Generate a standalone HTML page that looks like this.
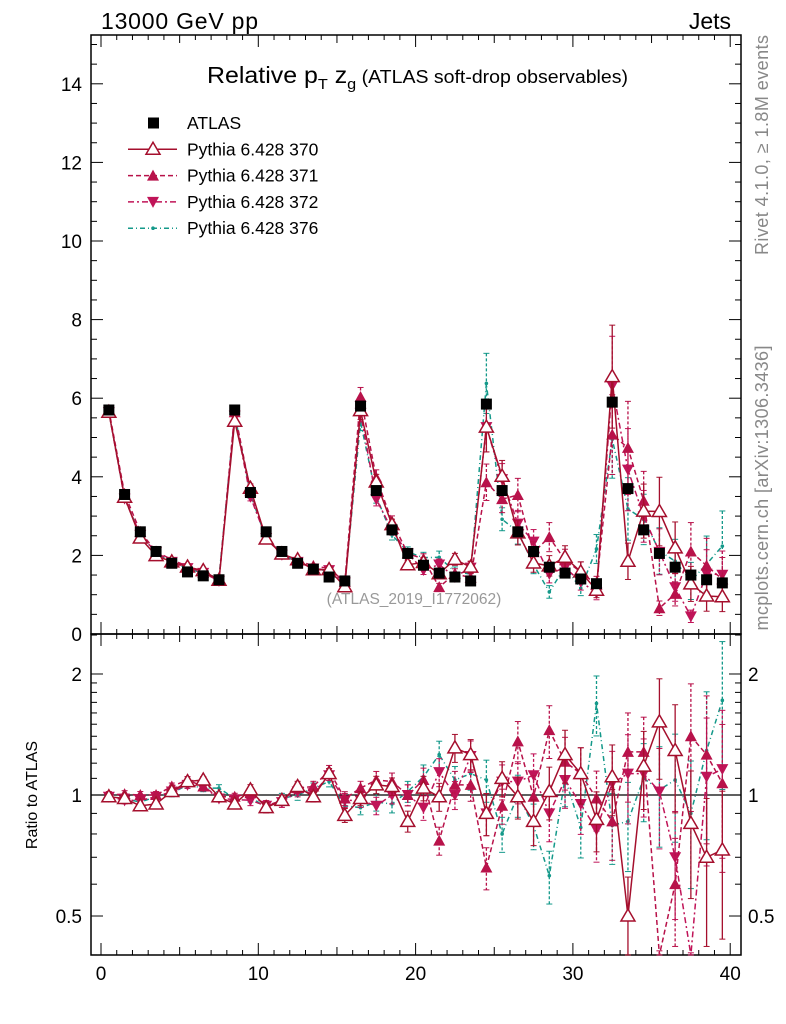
<!DOCTYPE html>
<html><head><meta charset="utf-8"><style>
body{margin:0;background:#fff;}
svg{display:block;font-family:"Liberation Sans",sans-serif;}
</style></head><body>
<svg id="c" width="786" height="1024" xmlns="http://www.w3.org/2000/svg">
<text x="101" y="29" font-size="23" textLength="157">13000 GeV pp</text>
<text x="731" y="29" font-size="23" text-anchor="end">Jets</text>
<text x="207" y="83" font-size="23" textLength="421" lengthAdjust="spacingAndGlyphs">Relative p<tspan font-size="15" dy="6">T</tspan><tspan dy="-6"> z</tspan><tspan font-size="15" dy="6">g</tspan><tspan dy="-6" font-size="18"> (ATLAS soft-drop observables)</tspan></text>
<text x="414" y="604" font-size="15.5" fill="#999" text-anchor="middle">(ATLAS_2019_I1772062)</text>
<text transform="translate(768,145) rotate(-90)" font-size="18" fill="#888" text-anchor="middle" textLength="220">Rivet 4.1.0, ≥ 1.8M events</text>
<text transform="translate(768,488) rotate(-90)" font-size="18" fill="#888" text-anchor="middle" textLength="285">mcplots.cern.ch [arXiv:1306.3436]</text>
<text transform="translate(37,795) rotate(-90)" font-size="16" text-anchor="middle">Ratio to ATLAS</text>
<g id="grid"></g>
<g id="marks"></g>
<g id="legend"></g>
</svg>
<script>
const bins = Array.from({length:40},(_, i)=>i+0.5);
const atlas = [5.7,3.55,2.6,2.1,1.8,1.58,1.48,1.38, 5.7,3.6,2.6,2.1,1.8,1.65,1.45,1.35, 5.8,3.65,2.65,2.05,1.75,1.55,1.45,1.35, 5.85,3.65,2.6,2.1,1.7,1.55,1.4,1.28, 5.9,3.7,2.65,2.05,1.7,1.5,1.38,1.3];
const ratio370 = [0.99,0.98,0.94,0.95,1.02,1.08,1.09,0.99,0.95,1.03,0.93,0.97,1.05,0.99,1.13,0.89,0.98,1.06,1.05,0.86,1.04,0.99,1.31,1.26,0.90,1.10,0.99,0.86,1.02,1.26,1.13,0.87,1.11,0.50,1.18,1.52,1.29,0.85,0.70,0.73];
const ratio371 = [1.0,1.005,1.0,1.0,1.05,1.09,1.05,0.99,0.99,1.01,0.94,0.97,1.04,1.05,1.15,0.98,1.04,1.09,1.08,1.0,1.09,0.77,1.06,1.06,0.66,0.94,1.36,0.99,1.45,1.21,1.13,0.98,0.86,1.28,1.28,0.32,0.60,1.40,1.26,1.07];
const ratio372 = [0.99,0.97,0.97,0.99,1.02,1.06,1.05,0.98,0.975,0.97,0.94,0.96,1.02,1.01,1.12,0.97,0.97,0.94,1.0,1.0,0.93,1.14,1.0,1.25,0.90,1.08,1.08,1.12,0.90,1.09,0.95,0.82,1.07,1.13,1.13,1.02,0.70,0.30,1.11,1.16];
const ratio376 = [0.99,0.98,0.96,0.99,1.01,1.06,1.04,1.04,0.98,0.99,0.93,0.98,1.0,1.04,1.08,0.94,0.93,0.96,0.95,1.02,1.11,1.26,1.09,1.13,1.09,0.80,1.0,0.84,0.63,1.10,0.83,1.69,0.84,0.86,1.10,1.03,1.09,0.90,1.29,1.72];
const relErr = [0.02,0.02,0.02,0.02,0.02,0.02,0.02,0.02,0.02,0.03,0.03,0.03,0.03,0.03,0.03,0.04,0.04,0.05,0.05,0.06,0.07,0.08,0.08,0.09,0.12,0.1,0.12,0.13,0.15,0.15,0.16,0.17,0.2,0.25,0.22,0.28,0.3,0.35,0.4,0.4];
const yTicksMain = [0,2,4,6,8,10,12,14];
const yTicksRatio = [0.5,1,2];
const xTicks = [0,10,20,30,40];

const NS="http://www.w3.org/2000/svg";
const L=91,R=741,T=35,MB=634,RB=955;
const X=v=>101+v*15.73;
const Y=v=>634-v*39.3;
const YR=r=>795-402*Math.log10(r);
function mk(tag,attrs,parent){const e=document.createElementNS(NS,tag);for(const k in attrs)e.setAttribute(k,attrs[k]);parent.appendChild(e);return e;}
const grid=document.getElementById('grid'), marks=document.getElementById('marks'), leg=document.getElementById('legend');

let f1=mk('rect',{x:L,y:T,width:R-L,height:MB-T,fill:'none',stroke:'#000','stroke-width':1.5},grid);


let f2=mk('rect',{x:L,y:MB,width:R-L,height:RB-MB,fill:'none',stroke:'#000','stroke-width':1.5},grid);


for(let v=0;v<=40;v++){const x=X(v);if(x<L||x>R)continue;const len=v%10===0?12:(v%5===0?8:5);
 for(const [y0,d] of [[MB,-1],[T,1],[RB,-1],[MB,1]]) mk('line',{x1:x,x2:x,y1:y0,y2:y0+d*len,stroke:'#000'},grid);}
xTicks.forEach(v=>{const t=mk('text',{x:X(v),y:980,'font-size':19,'text-anchor':'middle'},grid);t.textContent=v;
 
 });
for(let v=0;v<=15;v+=0.5){const y=Y(v);if(y<T)continue;const len=v%2===0?12:6;
 mk('line',{x1:L,x2:L+len,y1:y,y2:y,stroke:'#000'},grid);mk('line',{x1:R,x2:R-len,y1:y,y2:y,stroke:'#000'},grid);}
yTicksMain.forEach(v=>{const t=mk('text',{x:82,y:Y(v)+7,'font-size':19,'text-anchor':'end'},grid);t.textContent=v;
 
 });
[0.4,0.5,0.6,0.7,0.8,0.9,1,1.1,1.2,1.3,1.4,1.5,1.6,1.7,1.8,1.9,2,2.5].forEach(r=>{const y=YR(r);if(y<MB||y>RB)return;const len=yTicksRatio.includes(r)?12:6;
 mk('line',{x1:L,x2:L+len,y1:y,y2:y,stroke:'#000'},grid);mk('line',{x1:R,x2:R-len,y1:y,y2:y,stroke:'#000'},grid);});
yTicksRatio.forEach(r=>{let t=mk('text',{x:82,y:YR(r)+7,'font-size':19,'text-anchor':'end'},grid);t.textContent=r;
 
 
 t=mk('text',{x:748,y:YR(r)+7,'font-size':19},grid);t.textContent=r;
 
 });
mk('line',{x1:L,x2:R,y1:YR(1),y2:YR(1),stroke:'#000','stroke-width':1.2},grid);

const series=[
 {name:'370',r:ratio370,c:'#a50f2d',dash:'',m:'open'},
 {name:'371',r:ratio371,c:'#b8124a',dash:'5,3',m:'up'},
 {name:'372',r:ratio372,c:'#c01458',dash:'6,3,2,3',m:'down'},
 {name:'376',r:ratio376,c:'#14998a',dash:'5,3,1,3',m:'dot'}];
function marker(m,x,y,c,g){
 if(m==='open')return mk('path',{d:`M${x},${y-7}L${x+7},${y+5}L${x-7},${y+5}Z`,fill:'#fff',stroke:c,'stroke-width':1.5},g);
 if(m==='up')return mk('path',{d:`M${x},${y-6}L${x+6},${y+5}L${x-6},${y+5}Z`,fill:c},g);
 if(m==='down')return mk('path',{d:`M${x},${y+6}L${x+6},${y-5}L${x-6},${y-5}Z`,fill:c},g);
 return mk('circle',{cx:x,cy:y,r:1.8,fill:c},g);
}
function clipR(y){return Math.max(MB,Math.min(RB,y));}
function clipM(y){return Math.max(T,Math.min(MB,y));}
[...series].reverse().forEach(s=>{
 const g=mk('g',{},marks);
 
 
 const mv=atlas.map((a,i)=>a*s.r[i]);
 const pm=bins.map((b,i)=>`${X(b)},${clipM(Y(mv[i]))}`).join(' ');
 mk('polyline',{points:pm,fill:'none',stroke:s.c,'stroke-width':1.5,'stroke-dasharray':s.dash},g);
 const pr=bins.map((b,i)=>`${X(b)},${clipR(YR(s.r[i]))}`).join(' ');
 mk('polyline',{points:pr,fill:'none',stroke:s.c,'stroke-width':1.5,'stroke-dasharray':s.dash},g);
 bins.forEach((b,i)=>{const x=X(b);
  const e=relErr[i]*s.r[i];
  const y1=clipM(Y(mv[i]*(1+relErr[i]))),y2=clipM(Y(mv[i]*(1-relErr[i])));
  mk('line',{x1:x,x2:x,y1,y2,stroke:s.c,'stroke-width':1.3,'stroke-dasharray':s.dash?'3,2':''},g);
  mk('line',{x1:x-3,x2:x+3,y1,y2:y1,stroke:s.c},g);mk('line',{x1:x-3,x2:x+3,y1:y2,y2,stroke:s.c},g);
  const r1=clipR(YR(s.r[i]+e)),r2=clipR(YR(Math.max(0.01,s.r[i]-e)));
  mk('line',{x1:x,x2:x,y1:r1,y2:r2,stroke:s.c,'stroke-width':1.3,'stroke-dasharray':s.dash?'3,2':''},g);
  mk('line',{x1:x-3,x2:x+3,y1:r1,y2:r1,stroke:s.c},g);mk('line',{x1:x-3,x2:x+3,y1:r2,y2:r2,stroke:s.c},g);
  const ym=Y(mv[i]);if(ym>=T&&ym<=MB){const p=marker(s.m,x,ym,s.c,g);
   
   }
  const yr=YR(s.r[i]);if(yr>=MB&&yr<=RB){const p=marker(s.m,x,yr,s.c,g);
   
   }
 });
});
const ga=mk('g',{},marks);


bins.forEach((b,i)=>{const x=X(b),y=Y(atlas[i]);
 const p=mk('rect',{x:x-5.5,y:y-5.5,width:11,height:11,fill:'#000'},ga);
 
 });
const rows=[['ATLAS','sq','#000',''],['Pythia 6.428 370','open','#a50f2d',''],['Pythia 6.428 371','up','#b8124a','5,3'],['Pythia 6.428 372','down','#c01458','6,3,2,3'],['Pythia 6.428 376','dot','#14998a','5,3,1,3']];
rows.forEach((r,k)=>{const y=123+k*26.3;const g=mk('g',{},leg);
 
 
 if(r[1]==='sq')mk('rect',{x:148,y:y-5.5,width:11,height:11,fill:'#000'},g);
 else{mk('line',{x1:128,x2:177,y1:y,y2:y,stroke:r[2],'stroke-width':1.5,'stroke-dasharray':r[3]},g);marker(r[1],153,y,r[2],g);}
 const t=mk('text',{x:187,y:y+6,'font-size':17.5},g);t.textContent=r[0];});
</script>
</body></html>
